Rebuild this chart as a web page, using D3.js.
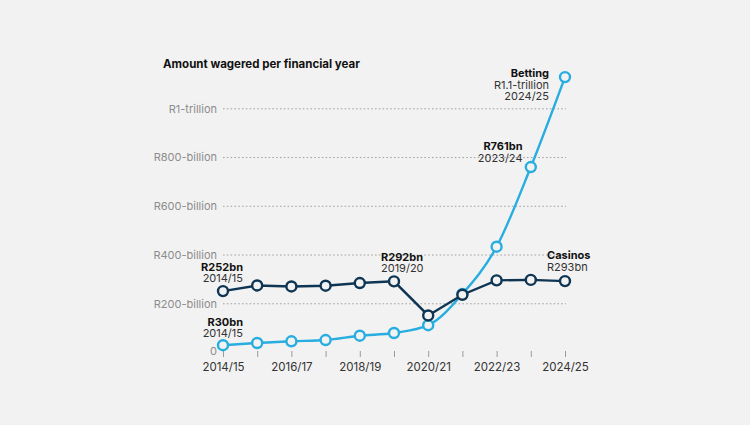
<!DOCTYPE html>
<html>
<head>
<meta charset="utf-8">
<script src="https://cdn.jsdelivr.net/npm/d3@7.9.0/dist/d3.min.js"></script>
<style>
  html, body { margin: 0; padding: 0; background: #f2f2f2; }
  svg { display: block; font-family: Inter, "Noto Sans", sans-serif; }
</style>
</head>
<body>
<svg id="chart" width="750" height="425"></svg>
<script>
// financial years, one point per year
const years = ['2014/15', '2015/16', '2016/17', '2017/18', '2018/19', '2019/20',
  '2020/21', '2021/22', '2022/23', '2023/24', '2024/25'];

// amount wagered, R billion
const betting = [30, 39, 46, 51, 69, 80, 112, 240, 434, 761, 1130];
const casinos = [252, 275, 271, 274, 285, 292, 152, 237, 296, 298, 293];

const yTicks = [0, 200, 400, 600, 800, 1000];
const yTickLabels = ['0', 'R200-billion', 'R400-billion', 'R600-billion', 'R800-billion', 'R1-trillion'];
const xTickLabels = ['2014/15', '2016/17', '2018/19', '2020/21', '2022/23', '2024/25'];

const bettingColor = '#27ade0';
const casinoColor = '#0e3553';
const bg = '#f2f2f2';

const svg = d3.select('#chart');

const x = d3.scalePoint().domain(years).range([223, 565]);
const y = d3.scaleLinear().domain([0, 1000]).range([352.5, 108.8]);

svg.append('text')
  .attr('x', 163).attr('y', 68)
  .attr('font-size', 11.5).attr('font-weight', 700).attr('fill', '#111')
  .text('Amount wagered per financial year');

// gridlines
svg.append('g')
  .selectAll('line')
  .data(yTicks.filter((d) => d > 0))
  .join('line')
  .attr('x1', 223).attr('x2', 566)
  .attr('y1', (d) => y(d)).attr('y2', (d) => y(d))
  .attr('stroke', '#9a9a9a')
  .attr('stroke-width', 0.9)
  .attr('stroke-dasharray', '1.6,2.2');

// y labels
svg.append('g')
  .selectAll('text')
  .data(yTicks)
  .join('text')
  .attr('x', 217)
  .attr('y', (d) => y(d) - (d === 0 ? 1 : 0))
  .attr('dy', '0.35em')
  .attr('text-anchor', 'end')
  .attr('font-size', 11)
  .attr('fill', '#8c8c8c')
  .text((d, i) => yTickLabels[i]);

// x axis: ticks on every year, labels every other year
const xAxis = d3.axisBottom(x)
  .tickSize(6)
  .tickFormat((d) => (xTickLabels.includes(d) ? d : ''));

const gx = svg.append('g')
  .attr('transform', 'translate(0,351)')
  .call(xAxis);
gx.select('.domain').remove();
gx.selectAll('.tick line').attr('stroke', '#9a9a9a');
gx.selectAll('.tick text')
  .attr('font-family', 'Inter, "Noto Sans", sans-serif')
  .attr('font-size', 11.5)
  .attr('fill', '#333')
  .attr('dy', '0.95em');

function drawSeries(values, color, curve) {
  const line = d3.line()
    .x((d, i) => x(years[i]))
    .y((d) => y(d))
    .curve(curve);

  svg.append('path')
    .datum(values)
    .attr('d', line)
    .attr('fill', 'none')
    .attr('stroke', color)
    .attr('stroke-width', 2.4);

  svg.append('g')
    .selectAll('circle')
    .data(values)
    .join('circle')
    .attr('cx', (d, i) => x(years[i]))
    .attr('cy', (d) => y(d))
    .attr('r', 5)
    .attr('fill', bg)
    .attr('stroke', color)
    .attr('stroke-width', 2.4);
}

drawSeries(betting, bettingColor, d3.curveMonotoneX);
drawSeries(casinos, casinoColor, d3.curveLinear);

// annotations
const notes = [
  { x: 243, y: 270.5, anchor: 'end', lines: ['R252bn', '2014/15'] },
  { x: 243, y: 325.5, anchor: 'end', lines: ['R30bn', '2014/15'] },
  { x: 381, y: 260.5, anchor: 'start', lines: ['R292bn', '2019/20'] },
  { x: 547, y: 259, anchor: 'start', lines: ['Casinos', 'R293bn'] },
  { x: 549, y: 77, anchor: 'end', lines: ['Betting', 'R1.1-trillion', '2024/25'] },
  { x: 522.5, y: 150, anchor: 'end', lines: ['R761bn', '2023/24'] },
];

const noteG = svg.append('g');
notes.forEach((n) => {
  const t = noteG.append('text')
    .attr('x', n.x).attr('y', n.y)
    .attr('text-anchor', n.anchor)
    .attr('font-size', 11)
    .attr('fill', '#222');
  n.lines.forEach((l, i) => {
    t.append('tspan')
      .attr('x', n.x)
      .attr('dy', i === 0 ? 0 : 11.6)
      .attr('font-weight', i === 0 ? 700 : 400)
      .attr('fill', i === 0 ? '#111' : '#333')
      .text(l);
  });
});
</script>
</body>
</html>
